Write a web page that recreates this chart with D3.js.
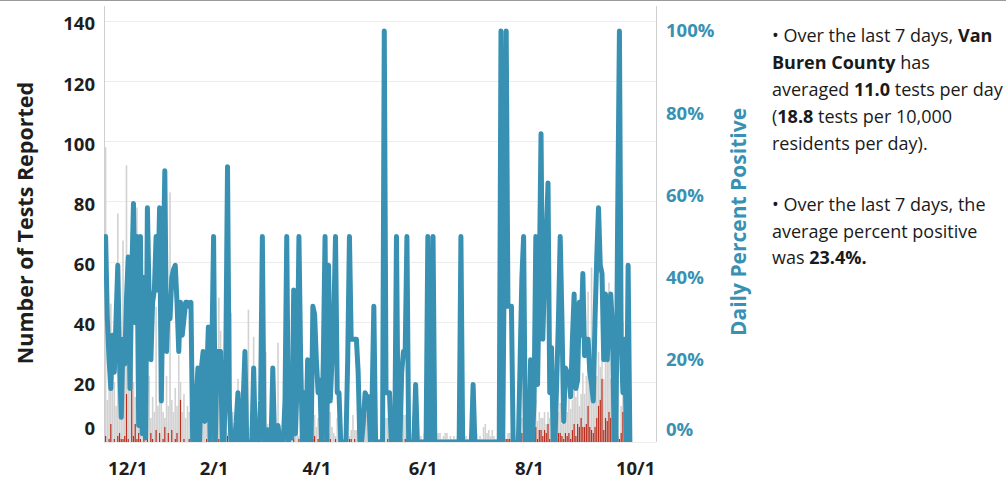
<!DOCTYPE html>
<html>
<head>
<meta charset="utf-8">
<script src="https://cdn.jsdelivr.net/npm/d3@7"></script>
<style>
  html, body { margin: 0; padding: 0; background: #fff; }
  svg { display: block; font-family: "Open Sans", sans-serif; }
</style>
</head>
<body>
<svg id="chart" width="1006" height="484"></svg>
<script>
// daily values, first day is 12/1
const startDate = new Date(2020, 11, 1);

const tests = [
  98, 14, 20, 46, 30, 20, 12, 76, 45, 22,
  67, 30, 92, 35, 18, 40, 20, 15, 78, 12,
  25, 68, 10, 20, 14, 22, 8, 15, 10, 45,
  12, 20, 16, 10, 8, 22, 12, 83, 14, 10,
  18, 12, 29, 20, 10, 16, 8, 12, 10, 6,
  6, 3, 8, 21, 5, 27, 9, 12, 6, 8,
  5, 10, 2, 4, 9, 48, 37, 3, 5, 10,
  3, 8, 43, 10, 2, 6, 21, 4, 3, 8,
  24, 3, 44, 5, 2, 35, 4, 3, 6, 10,
  2, 45, 30, 6, 3, 4, 12, 2, 3, 33,
  5, 2, 3, 4, 2, 3, 8, 5, 3, 6,
  7, 2, 5, 3, 8, 2, 5, 1, 2, 3,
  9, 5, 8, 7, 2, 5, 2, 3, 10, 10,
  5, 3, 2, 8, 8, 7, 2, 1, 3, 5,
  2, 4, 9, 4, 4, 6, 2, 1, 3, 8,
  9, 9, 2, 4, 3, 9, 5, 1, 2, 0,
  1, 8, 8, 8, 2, 1, 3, 2, 1, 2,
  6, 9, 9, 2, 1, 2, 3, 1, 7, 2,
  1, 2, 1, 3, 1, 2, 1, 1, 2, 1,
  2, 3, 3, 1, 2, 3, 3, 1, 2, 1,
  2, 1, 2, 1, 2, 1, 2, 2, 1, 2,
  1, 7, 3, 3, 1, 2, 1, 5, 6, 3,
  4, 2, 4, 2, 1, 1, 2, 1, 3, 2,
  1, 3, 3, 3, 2, 2, 3, 4, 5, 8,
  2, 4, 3, 5, 5, 6, 10, 14, 7, 10,
  8, 8, 10, 6, 10, 8, 13, 6, 5, 8,
  10, 13, 6, 9, 15, 10, 19, 11, 14, 18,
  15, 23, 12, 16, 23, 16, 22, 50, 30, 58,
  25, 21, 22, 30, 25, 32, 21, 40, 35, 53,
  21, 15, 7, 3, 4, 1, 12, 40, 25, 6,
  7, 3
];

const positives = [
  2, 0, 1, 6, 0, 1, 0, 2, 3, 1,
  1, 2, 16, 1, 0, 25, 2, 6, 1, 3,
  1, 0, 3, 0, 8, 0, 3, 1, 0, 4,
  0, 3, 0, 1, 5, 0, 3, 0, 4, 0,
  1, 3, 0, 14, 0, 1, 0, 0, 1, 0,
  3, 0, 1, 1, 0, 1, 0, 0, 1, 0,
  0, 1, 1, 0, 0, 1, 1, 0, 0, 0,
  2, 0, 0, 0, 0, 0, 1, 0, 0, 0,
  1, 0, 0, 0, 0, 1, 0, 0, 0, 0,
  1, 0, 0, 0, 0, 0, 1, 0, 0, 0,
  0, 0, 0, 0, 1, 0, 1, 0, 1, 0,
  0, 1, 0, 0, 0, 0, 1, 0, 0, 1,
  2, 0, 1, 0, 0, 0, 1, 0, 3, 1,
  0, 0, 1, 0, 0, 0, 0, 0, 0, 0,
  1, 1, 0, 1, 0, 0, 0, 0, 0, 0,
  0, 1, 0, 0, 1, 0, 0, 0, 0, 0,
  1, 0, 1, 0, 0, 0, 0, 1, 0, 0,
  1, 0, 1, 1, 0, 0, 0, 0, 1, 0,
  0, 0, 0, 0, 0, 1, 0, 0, 1, 0,
  0, 0, 0, 0, 0, 0, 0, 0, 0, 0,
  0, 0, 0, 0, 1, 0, 0, 0, 0, 0,
  0, 1, 0, 0, 0, 0, 0, 0, 0, 0,
  0, 0, 0, 0, 0, 0, 0, 1, 0, 1,
  1, 1, 1, 1, 0, 0, 0, 0, 1, 3,
  1, 0, 0, 0, 1, 0, 1, 5, 1, 4,
  4, 2, 4, 3, 6, 1, 3, 0, 0, 1,
  3, 3, 2, 1, 3, 2, 3, 1, 4, 6,
  2, 6, 5, 8, 5, 5, 6, 12, 5, 4,
  3, 5, 8, 12, 14, 21, 4, 8, 7, 10,
  8, 4, 0, 0, 2, 1, 3, 10, 3, 0,
  3, 0
];

// daily percent positive
const pctPositive = [
  50, 30, 20, 13, 26, 17, 30, 43, 20, 6,
  25, 19, 35, 45, 13, 40, 58, 29, 50, 4,
  50, 2, 40, 1, 57, 35, 20, 34, 37, 50,
  37, 57, 10, 40, 66, 22, 34, 30, 40, 42,
  43, 34, 22, 34, 26, 30, 34, 34, 33, 34,
  0, 0, 10, 18, 0, 18, 22, 5, 15, 28,
  0, 22, 50, 0, 22, 22, 22, 0, 0, 20,
  67, 10, 0, 0, 0, 5, 12, 0, 0, 10,
  22, 0, 0, 0, 0, 18, 0, 0, 0, 10,
  50, 0, 0, 3, 0, 0, 18, 0, 0, 4,
  0, 0, 0, 10, 50, 0, 13, 1, 37, 2,
  15, 50, 20, 0, 12, 0, 20, 0, 0, 33,
  31, 20, 12, 15, 0, 20, 50, 0, 43, 10,
  20, 30, 50, 12, 12, 0, 0, 0, 0, 20,
  50, 25, 25, 25, 25, 17, 0, 0, 5, 12,
  11, 11, 0, 10, 33, 0, 0, 0, 0, 0,
  100, 12, 12, 12, 0, 0, 0, 50, 0, 0,
  17, 22, 22, 50, 0, 0, 0, 0, 14, 0,
  0, 0, 0, 0, 0, 50, 0, 0, 50, 0,
  0, 0, 0, 0, 0, 0, 0, 0, 0, 0,
  0, 0, 0, 0, 50, 0, 0, 0, 0, 0,
  0, 14, 0, 0, 0, 0, 0, 0, 0, 0,
  0, 0, 0, 0, 0, 0, 0, 100, 0, 50,
  100, 33, 33, 33, 0, 0, 0, 0, 20, 40,
  50, 0, 0, 0, 20, 0, 10, 50, 14, 40,
  75, 25, 40, 50, 63, 12, 23, 0, 0, 15,
  30, 50, 30, 5, 18, 17, 17, 11, 25, 36,
  13, 15, 34, 26, 41, 21, 25, 25, 17, 14,
  10, 30, 45, 57, 43, 41, 20, 36, 20, 30,
  36, 28, 0, 0, 55, 100, 25, 12, 25, 0,
  43, 0
];

const leftTicks = [0, 20, 40, 60, 80, 100, 120, 140];
const rightTicks = [0, 20, 40, 60, 80, 100];
const xTickDates = [
  new Date(2020, 11, 1), new Date(2021, 1, 1), new Date(2021, 3, 1),
  new Date(2021, 5, 1), new Date(2021, 7, 1), new Date(2021, 9, 1)
];

const blue = '#3891b2';
const dark = '#1e1e1e';

const plotLeft = 104, plotRight = 656, plotTop = 6, plotBottom = 442;

const svg = d3.select('#chart');

const data = tests.map((t, i) => ({
  date: d3.timeDay.offset(startDate, i),
  tests: t,
  pos: positives[i],
  pct: pctPositive[i]
}));

const x = d3.scaleTime()
  .domain([d3.timeHour.offset(startDate, -22), new Date(2021, 9, 13)])
  .range([plotLeft, plotRight]);
const yTests = d3.scaleLinear().domain([0, 145]).range([plotBottom, plotTop]);
const yPct = d3.scaleLinear().domain([0, 100]).range([plotBottom, 31]);

// frame line at the very top
svg.append('line')
  .attr('x1', 0).attr('x2', 1006).attr('y1', 0.5).attr('y2', 0.5)
  .attr('stroke', '#9a9a9a');

// gridlines
svg.append('g')
  .selectAll('line')
  .data(leftTicks)
  .join('line')
  .attr('x1', plotLeft).attr('x2', plotRight)
  .attr('y1', d => Math.round(yTests(d)) + 0.5)
  .attr('y2', d => Math.round(yTests(d)) + 0.5)
  .attr('stroke', '#ececec');

// axis lines
svg.append('line')
  .attr('x1', plotLeft + 0.5).attr('x2', plotLeft + 0.5).attr('y1', plotTop).attr('y2', plotBottom)
  .attr('stroke', '#cfcfcf');
svg.append('line')
  .attr('x1', plotRight + 0.5).attr('x2', plotRight + 0.5).attr('y1', plotTop).attr('y2', plotBottom)
  .attr('stroke', '#cfcfcf');

svg.append('defs').append('clipPath').attr('id', 'plot')
  .append('rect').attr('x', plotLeft).attr('y', plotTop)
  .attr('width', plotRight - plotLeft).attr('height', plotBottom - plotTop);

const plot = svg.append('g').attr('clip-path', 'url(#plot)');

// tests bars, then positives on top
plot.append('g')
  .selectAll('rect')
  .data(data)
  .join('rect')
  .attr('x', d => x(d.date) - 0.8)
  .attr('width', 1.6)
  .attr('y', d => yTests(d.tests))
  .attr('height', d => plotBottom - yTests(d.tests))
  .attr('fill', '#d2d2d2');

plot.append('g')
  .selectAll('rect')
  .data(data.filter(d => d.pos > 0))
  .join('rect')
  .attr('x', d => x(d.date) - 0.6)
  .attr('width', 1.2)
  .attr('y', d => yTests(d.pos))
  .attr('height', d => plotBottom - yTests(d.pos))
  .attr('fill', '#bb2d1c');

// percent positive line
const line = d3.line()
  .x(d => x(d.date))
  .y(d => yPct(d.pct));

plot.append('path')
  .datum(data)
  .attr('d', line)
  .attr('fill', 'none')
  .attr('stroke', blue)
  .attr('stroke-width', 5)
  .attr('stroke-linejoin', 'round')
  .attr('stroke-linecap', 'round');

// left axis
const gLeft = svg.append('g')
  .attr('transform', `translate(${plotLeft},0)`)
  .call(d3.axisLeft(yTests).tickValues(leftTicks).tickSize(0).tickPadding(9));
gLeft.select('.domain').remove();
gLeft.selectAll('text')
  .attr('dy', '0.48em')
  .style('font-family', '"Open Sans", sans-serif')
  .style('font-size', '18.5px')
  .style('font-weight', 700)
  .attr('fill', dark);
gLeft.selectAll('.tick').filter(d => d === 0).select('text').attr('y', -16);

// right axis
const gRight = svg.append('g')
  .attr('transform', `translate(${plotRight},0)`)
  .call(d3.axisRight(yPct).tickValues(rightTicks).tickSize(0).tickPadding(10)
    .tickFormat(d => d + '%'));
gRight.select('.domain').remove();
gRight.selectAll('text')
  .style('font-family', '"Open Sans", sans-serif')
  .style('font-size', '18.5px')
  .style('font-weight', 700)
  .attr('fill', blue);
gRight.selectAll('.tick').filter(d => d === 0).select('text').attr('y', -12);

// bottom axis
const gBottom = svg.append('g')
  .attr('transform', `translate(0,${plotBottom})`)
  .call(d3.axisBottom(x).tickValues(xTickDates).tickSize(0).tickPadding(20)
    .tickFormat(d3.timeFormat('%-m/%-d')));
gBottom.select('.domain').remove();
gBottom.selectAll('text')
  .style('font-family', '"Open Sans", sans-serif')
  .style('font-size', '18.5px')
  .style('font-weight', 700)
  .attr('fill', dark);
// first label sits inside the plot
gBottom.selectAll('.tick').filter((d, i) => i === 0).select('text')
  .attr('text-anchor', 'start').attr('x', 2);

// axis titles
svg.append('text')
  .attr('transform', 'translate(33,223) rotate(-90)')
  .attr('text-anchor', 'middle')
  .style('font-size', '21.5px')
  .style('font-weight', 700)
  .attr('fill', dark)
  .text('Number of Tests Reported');

svg.append('text')
  .attr('transform', 'translate(746,222) rotate(-90)')
  .attr('text-anchor', 'middle')
  .style('font-size', '21px')
  .style('font-weight', 700)
  .attr('fill', blue)
  .text('Daily Percent Positive');

// summary text
const notes = [
  { y: 41.5, parts: [['• Over the last 7 days, ', 400], ['Van', 700]] },
  { y: 68.6, parts: [['Buren County', 700], [' has', 400]] },
  { y: 95.7, parts: [['averaged ', 400], ['11.0', 700], [' tests per day', 400]] },
  { y: 122.8, parts: [['(', 400], ['18.8', 700], [' tests per 10,000', 400]] },
  { y: 149.9, parts: [['residents per day).', 400]] },
  { y: 210.7, parts: [['• Over the last 7 days, the', 400]] },
  { y: 237.5, parts: [['average percent positive', 400]] },
  { y: 264.3, parts: [['was ', 400], ['23.4%.', 700]] }
];

const noteText = svg.append('g')
  .style('font-size', '18px')
  .attr('fill', '#1a1a1a');

notes.forEach(n => {
  const t = noteText.append('text').attr('x', 772).attr('y', n.y);
  n.parts.forEach(p => {
    t.append('tspan').style('font-weight', p[1]).text(p[0]);
  });
});
</script>
</body>
</html>
